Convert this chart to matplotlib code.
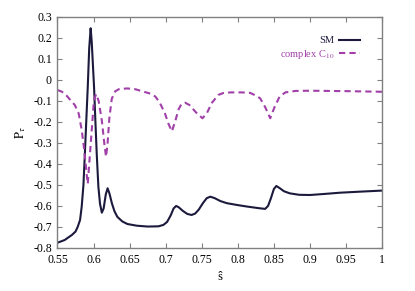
import matplotlib
matplotlib.use("Agg")
import matplotlib.pyplot as plt
from matplotlib.ticker import FuncFormatter

plt.rcParams['font.family'] = ['Liberation Serif', 'DejaVu Serif']
plt.rcParams['mathtext.fontset'] = 'stix'
plt.rcParams['axes.unicode_minus'] = False

# SM curve
sm_x = [0.55, 0.56, 0.57, 0.575, 0.578, 0.5813, 0.5836, 0.586, 0.588, 0.590,
        0.592, 0.594, 0.596, 0.5975, 0.599, 0.6007, 0.6025, 0.6044, 0.6067, 0.609,
        0.6115, 0.614, 0.617, 0.6195, 0.622, 0.6255, 0.629, 0.633, 0.64, 0.647,
        0.66, 0.675, 0.69, 0.697, 0.702, 0.707, 0.711, 0.7145, 0.718, 0.724,
        0.73, 0.736, 0.741, 0.746, 0.752, 0.757, 0.762, 0.768, 0.776, 0.785,
        0.8, 0.813, 0.83, 0.838, 0.842, 0.846, 0.85, 0.8535, 0.858, 0.864,
        0.872, 0.885, 0.9, 0.92, 0.942, 0.97, 1.0]
sm_y = [-0.775, -0.762, -0.738, -0.722, -0.70, -0.667, -0.603, -0.50, -0.35, -0.19,
        -0.033, 0.15, 0.245, 0.18, 0.08, -0.033, -0.19, -0.35, -0.508, -0.59,
        -0.632, -0.612, -0.545, -0.516, -0.54, -0.588, -0.625, -0.652, -0.674, -0.686,
        -0.694, -0.698, -0.697, -0.69, -0.676, -0.645, -0.612, -0.600, -0.606, -0.624,
        -0.638, -0.643, -0.636, -0.617, -0.585, -0.563, -0.556, -0.563, -0.577, -0.587,
        -0.596, -0.603, -0.611, -0.614, -0.6, -0.563, -0.52, -0.505, -0.515, -0.53,
        -0.54, -0.547, -0.548, -0.543, -0.537, -0.532, -0.527]

# complex C10 curve
c10_x = [0.55, 0.555, 0.56, 0.5678, 0.574, 0.5794, 0.5836, 0.587, 0.5905, 0.592,
         0.594, 0.5975, 0.6005, 0.6035, 0.607, 0.6114, 0.6155, 0.6174, 0.6195, 0.622,
         0.6253, 0.63, 0.635, 0.6466, 0.658, 0.6697, 0.679, 0.6858, 0.692, 0.699,
         0.704, 0.7086, 0.713, 0.718, 0.722, 0.727, 0.733, 0.742, 0.751, 0.757,
         0.764, 0.773, 0.78, 0.79, 0.805, 0.817, 0.825, 0.831, 0.838, 0.845,
         0.851, 0.858, 0.866, 0.88, 0.9, 0.95, 1.0]
c10_y = [-0.049, -0.055, -0.065, -0.096, -0.12, -0.16, -0.239, -0.33, -0.45, -0.495,
         -0.4, -0.239, -0.1, -0.068, -0.1, -0.191, -0.32, -0.366, -0.3, -0.18,
         -0.09, -0.055, -0.045, -0.041, -0.045, -0.057, -0.066, -0.08, -0.11, -0.16,
         -0.21, -0.245, -0.2, -0.14, -0.115, -0.109, -0.12, -0.155, -0.183, -0.16,
         -0.11, -0.072, -0.063, -0.06, -0.06, -0.062, -0.075, -0.088, -0.13, -0.183,
         -0.13, -0.08, -0.06, -0.053, -0.052, -0.054, -0.057]

x_ticks = [0.55, 0.6, 0.65, 0.7, 0.75, 0.8, 0.85, 0.9, 0.95, 1.0]
y_ticks = [0.3, 0.2, 0.1, 0.0, -0.1, -0.2, -0.3, -0.4, -0.5, -0.6, -0.7, -0.8]

sm_color = '#1c1a3c'
c10_color = '#a040a8'

fig = plt.figure(figsize=(4.15, 2.91), dpi=100)
ax = fig.add_axes([0.1385, 0.1478, 0.782, 0.7948])

ax.plot(sm_x, sm_y, color=sm_color, lw=1.5, label='SM')
ax.plot(c10_x, c10_y, color=c10_color, lw=1.5, dashes=(3, 2),
        label=r'complex C$_{10}$')

ax.set_xlim(0.55, 1.0)
ax.set_ylim(-0.8, 0.3)
ax.set_xticks(x_ticks)
ax.set_yticks(y_ticks)
fmt = FuncFormatter(lambda v, p: '%g' % round(v, 2))
ax.xaxis.set_major_formatter(fmt)
ax.yaxis.set_major_formatter(fmt)
ax.tick_params(direction='in', top=True, right=True, length=3.5,
               width=0.8, color='#808080', labelsize=8.5, pad=4)
for s in ax.spines.values():
    s.set_color('#808080')
    s.set_linewidth(1.0)

ax.set_xlabel('ŝ', fontsize=9)
ax.set_ylabel(r'$\mathrm{P}_{\tau}$', fontsize=9, labelpad=4)

ax.legend(loc='upper right', bbox_to_anchor=(0.945, 0.935), frameon=False,
          markerfirst=False, fontsize=7.5, handlelength=2.0, handletextpad=0.5,
          labelspacing=0.25, borderaxespad=0, labelcolor=[sm_color, c10_color])

plt.savefig('out.png', dpi=100)
